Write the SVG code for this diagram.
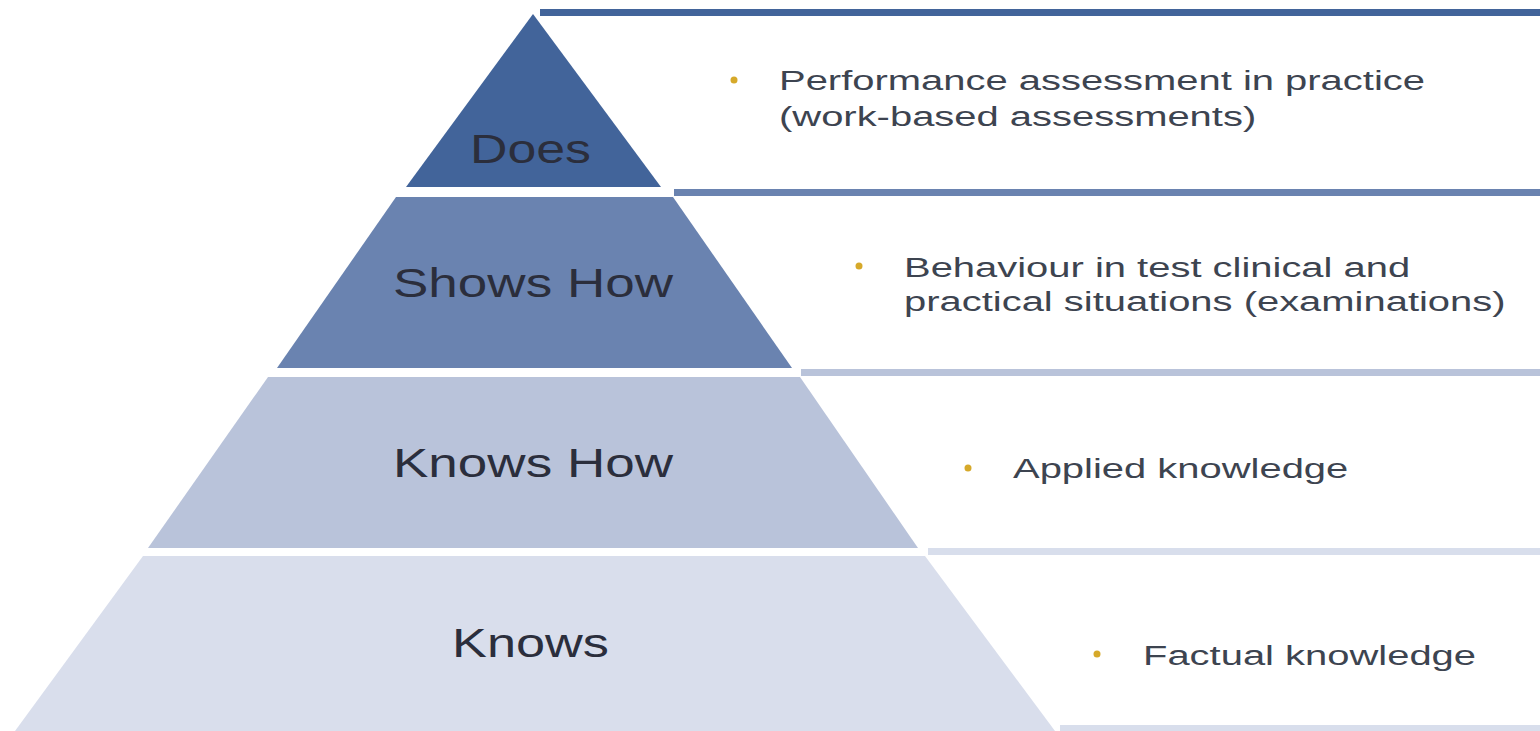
<svg xmlns="http://www.w3.org/2000/svg" width="1540" height="731" viewBox="0 0 1540 731">
<style>
.lbl{font-family:"Liberation Sans",Arial,sans-serif;font-size:40px;fill:#2b2e3c}
.desc{font-family:"Liberation Sans",Arial,sans-serif;font-size:28px;fill:#3d4450}
.bul{fill:#d6a92a}
</style>
<rect width="1540" height="731" fill="#ffffff"/>
<g id="bars">
<rect x="540" y="9" width="1000" height="7" fill="#42649a"/>
<rect x="674" y="189" width="866" height="7" fill="#6a83b0"/>
<rect x="801" y="369" width="739" height="7" fill="#b9c3da"/>
<rect x="928" y="548" width="612" height="7" fill="#d8deec"/>
<rect x="1060" y="725" width="480" height="6" fill="#d8deec"/>
</g>
<g id="does">
<polygon points="533,14 661,187 406,187" fill="#42649a"/>
<text class="lbl" transform="translate(470,163) scale(1.296,1)">Does</text>
</g>
<g id="shows-how">
<polygon points="396,197 673,197 792,368 277,368" fill="#6a83b0"/>
<text class="lbl" transform="translate(393,297) scale(1.326,1)">Shows How</text>
</g>
<g id="knows-how">
<polygon points="268,377 800,377 918,548 148,548" fill="#b9c3da"/>
<text class="lbl" transform="translate(393,477) scale(1.326,1)">Knows How</text>
</g>
<g id="knows">
<polygon points="143,556 925,556 1055,731 15,731" fill="#d9deec"/>
<text class="lbl" transform="translate(452,657) scale(1.308,1)">Knows</text>
</g>
<g id="desc-does">
<circle class="bul" cx="734" cy="80" r="3.5"/>
<text class="desc" transform="translate(779,90) scale(1.427,1)">Performance assessment in practice</text>
<text class="desc" transform="translate(779,126) scale(1.427,1)">(work-based assessments)</text>
</g>
<g id="desc-shows">
<circle class="bul" cx="859" cy="266" r="3.5"/>
<text class="desc" transform="translate(904,277) scale(1.427,1)">Behaviour in test clinical and</text>
<text class="desc" transform="translate(904,311) scale(1.427,1)">practical situations (examinations)</text>
</g>
<g id="desc-knowshow">
<circle class="bul" cx="968" cy="468" r="3.5"/>
<text class="desc" transform="translate(1013,478) scale(1.427,1)">Applied knowledge</text>
</g>
<g id="desc-knows">
<circle class="bul" cx="1097" cy="654" r="3.5"/>
<text class="desc" transform="translate(1143,665) scale(1.427,1)">Factual knowledge</text>
</g>
</svg>
